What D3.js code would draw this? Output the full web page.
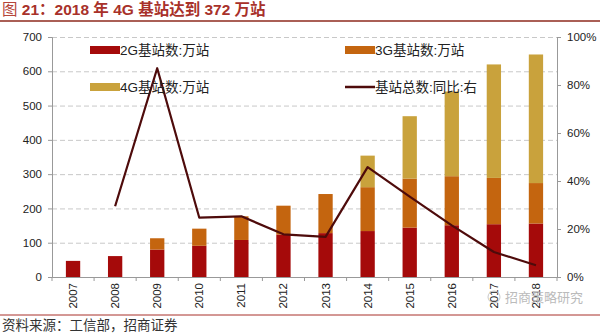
<!DOCTYPE html>
<html><head><meta charset="utf-8">
<script src="https://cdn.jsdelivr.net/npm/d3@7/dist/d3.min.js"></script>
<style>
body{margin:0;background:#fff;}
svg{display:block;font-family:"Liberation Sans","Noto Sans CJK SC",sans-serif;}
</style></head>
<body><svg id="c" width="600" height="334"></svg>
<script>
const years = ["2007","2008","2009","2010","2011","2012","2013","2014","2015","2016","2017","2018"];
const g2 = [47, 61, 80, 91, 108, 124, 128, 134, 144, 151, 154, 156];
const g3 = [0, 0, 33, 50, 69, 84, 114, 128, 143, 143, 135, 118];
const g4 = [0, 0, 0, 0, 0, 0, 0, 92, 182, 247, 331, 375];
const yoy = [null, 29.5, 87, 24.7, 25.3, 17.8, 16.7, 45.8, 33.5, 21.5, 10.4, 4.9];
const leftTicks = [0,100,200,300,400,500,600,700];
const rightTicks = [0,20,40,60,80,100];
const seriesNames = ["2G基站数:万站","3G基站数:万站","4G基站数:万站","基站总数:同比:右"];
const colors = ["#A50A0A","#C4650F","#C9A23C","#4E0B0B"];

const svg = d3.select("#c");
const L = 52, R = 557, T = 37, B = 277;
const x = d3.scaleBand().domain(years).range([L, R]).paddingInner(0.66).paddingOuter(0.33);
const y = d3.scaleLinear().domain([0,700]).range([B, T]);
const y2 = d3.scaleLinear().domain([0,100]).range([B, T]);

// title
const title = svg.append("text").attr("x",2).attr("y",15).attr("font-size",15.5).attr("font-weight","bold")
  .attr("fill","#A8312A").attr("font-family","'Liberation Sans','Noto Sans CJK SC',sans-serif");
title.append("tspan").attr("font-weight","normal").attr("fill","#B5453A").text("图 ");
title.append("tspan").text("21：2018 年 4G 基站达到 372 万站");
svg.append("line").attr("x1",0).attr("x2",600).attr("y1",21).attr("y2",21).attr("stroke","#8E2A1E").attr("stroke-width",1.5);

// gridlines
svg.append("g").selectAll("line").data(leftTicks.slice(1)).join("line")
  .attr("x1",L).attr("x2",R).attr("y1",d=>y(d)+0.5).attr("y2",d=>y(d)+0.5)
  .attr("stroke","#C8C8C8").attr("stroke-dasharray","5,3");

// bars
const stack = d3.stack().keys([0,1,2]).value((d,k)=>d[k]);
const rows = years.map((yr,i)=>[g2[i],g3[i],g4[i]]);
const stacked = stack(rows);
stacked.forEach((s,k)=>{
  svg.append("g").selectAll("rect").data(s).join("rect")
    .attr("x",(d,i)=>x(years[i])).attr("width",x.bandwidth())
    .attr("y",d=>y(d[1])).attr("height",d=>y(d[0])-y(d[1]))
    .attr("fill",colors[k]);
});

// left axis
const ax = svg.append("g").attr("transform",`translate(${L},0)`)
  .call(d3.axisLeft(y).tickValues(leftTicks).tickSize(4).tickPadding(6));
ax.selectAll("text").attr("font-size",11.5).attr("fill","#222").attr("font-family","Liberation Sans");
ax.select(".domain").attr("stroke","#999");
ax.selectAll(".tick line").attr("stroke","#999");

// right axis
const ax2 = svg.append("g").attr("transform",`translate(${R},0)`)
  .call(d3.axisRight(y2).tickValues(rightTicks).tickFormat(d=>d+"%").tickSize(4).tickPadding(6));
ax2.selectAll("text").attr("font-size",11.5).attr("fill","#222").attr("font-family","Liberation Sans");
ax2.select(".domain").attr("stroke","#999");
ax2.selectAll(".tick line").attr("stroke","#999");

// x axis
const xg = svg.append("g");
xg.append("line").attr("x1",L).attr("x2",R).attr("y1",B+0.5).attr("y2",B+0.5).attr("stroke","#999");
const bounds = years.map(d=>x(d) - x.step()*x.paddingInner()/2).concat([R]);
xg.selectAll("line.t").data(bounds).join("line").attr("class","t")
  .attr("x1",d=>d).attr("x2",d=>d).attr("y1",B).attr("y2",B+4).attr("stroke","#999");
xg.selectAll("text").data(years).join("text")
  .attr("transform",d=>`translate(${x(d)+x.bandwidth()/2+4},${B+6}) rotate(-90)`)
  .attr("text-anchor","end").attr("font-size",11.5).attr("fill","#222").text(d=>d);

// line
const line = d3.line().defined(d=>d!=null)
  .x((d,i)=>x(years[i])+x.bandwidth()/2).y(d=>y2(d));
svg.append("path").datum(yoy).attr("d",line).attr("fill","none")
  .attr("stroke",colors[3]).attr("stroke-width",2.2).attr("stroke-linejoin","round");

// legend
const leg = [
  {i:0,x:90,y:50},{i:1,x:345,y:50},{i:2,x:90,y:87},{i:3,x:345,y:87}
];
leg.forEach(l=>{
  const g = svg.append("g");
  if(l.i<3){
    g.append("rect").attr("x",l.x).attr("y",l.y-4).attr("width",30).attr("height",8).attr("fill",colors[l.i]);
  } else {
    g.append("line").attr("x1",l.x).attr("x2",l.x+30).attr("y1",l.y).attr("y2",l.y).attr("stroke",colors[3]).attr("stroke-width",2.5);
  }
  g.append("text").attr("x",l.x+30).attr("y",l.y+5).attr("font-size",13.5).attr("fill","#222")
    .attr("font-family","'Liberation Sans','Noto Sans CJK SC',sans-serif").text(seriesNames[l.i]);
});

// watermark
svg.append("text").attr("x",505).attr("y",302).attr("font-size",13).attr("fill","#BBB")
  .attr("font-family","'Noto Sans CJK SC'").text("招商策略研究");
svg.append("circle").attr("cx",494).attr("cy",297).attr("r",6).attr("fill","none").attr("stroke","#C8C8C8");

// footer
svg.append("line").attr("x1",0).attr("x2",600).attr("y1",315).attr("y2",315).attr("stroke","#A8312A").attr("stroke-width",1);
svg.append("text").attr("x",2).attr("y",330).attr("font-size",13.5).attr("fill","#333")
  .attr("font-family","'Noto Sans CJK SC'").text("资料来源：工信部，招商证券");
</script></body></html>
